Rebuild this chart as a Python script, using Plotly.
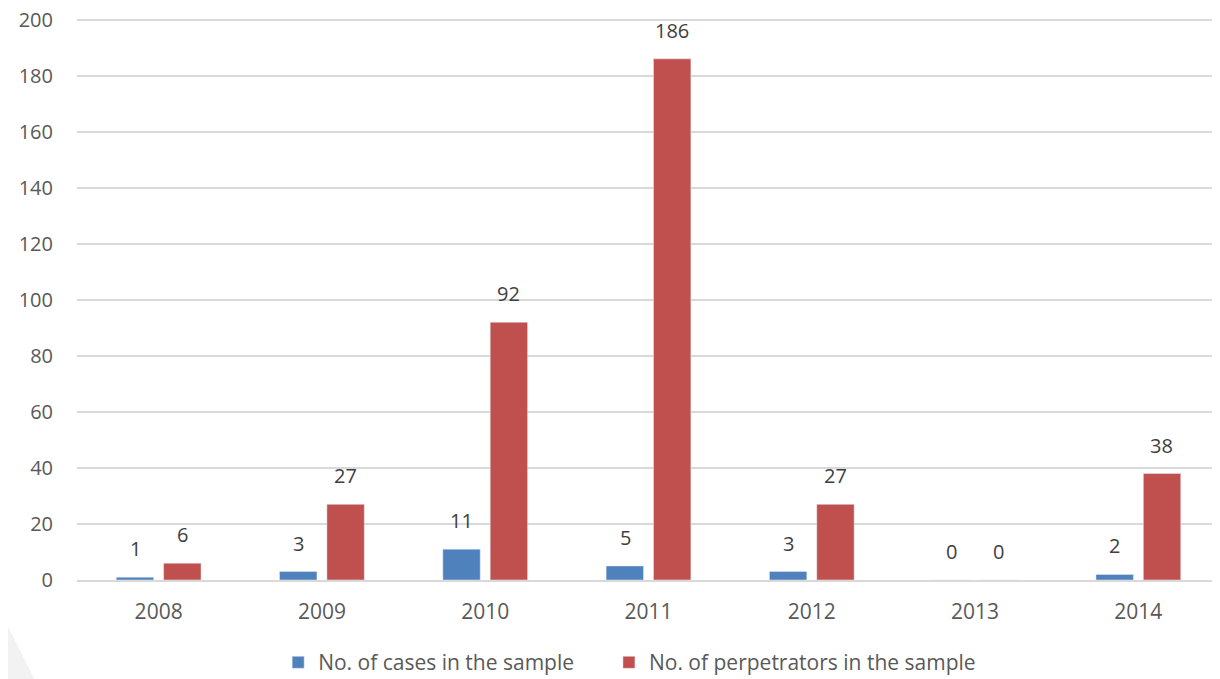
import plotly.graph_objects as go

years = ["2008", "2009", "2010", "2011", "2012", "2013", "2014"]
cases = [1, 3, 11, 5, 3, 0, 2]
perpetrators = [6, 27, 92, 186, 27, 0, 38]
y_ticks = [0, 20, 40, 60, 80, 100, 120, 140, 160, 180, 200]

BLUE = "#4F81BD"
RED = "#C0504D"
TXT = "#595959"
FONT = "Open Sans"
FS = 20
TFS = 21
YFS = 20

fig = go.Figure()
fig.add_trace(go.Bar(x=years, y=cases, name="No. of cases in the sample",
                     marker=dict(color=BLUE), legend="legend"))
fig.add_trace(go.Bar(x=years, y=perpetrators, name="No. of perpetrators in the sample",
                     marker=dict(color=RED), legend="legend2"))

annots = []
for i, v in enumerate(cases):
    annots.append(dict(x=i, y=v, xref="x", yref="y", text=str(v), showarrow=False,
                       xshift=-23.5, yshift=13, yanchor="bottom",
                       font=dict(family=FONT, size=FS, color="#404040")))
for i, v in enumerate(perpetrators):
    annots.append(dict(x=i, y=v, xref="x", yref="y", text=str(v), showarrow=False,
                       xshift=23.5, yshift=13, yanchor="bottom",
                       font=dict(family=FONT, size=FS, color="#404040")))

leg_common = dict(orientation="h", yanchor="middle", y=-0.146, xanchor="left",
                  font=dict(family=FONT, size=21, color=TXT))

fig.update_layout(
    width=1212, height=671,
    margin=dict(l=69, r=0, t=6, b=99, autoexpand=False),
    paper_bgcolor="white", plot_bgcolor="white",
    barmode="group", bargap=0.42, bargroupgap=0.21,
    font=dict(family=FONT, size=FS, color=TXT),
    annotations=annots,
    showlegend=True,
    legend=dict(x=0.176, **leg_common),
    legend2=dict(x=0.4654, **leg_common),
    xaxis=dict(type="category", range=[-0.5, len(years) - 0.5], autorange=False,
               automargin=False,
               showgrid=False, ticks="outside", ticklen=12,
               tickcolor="rgba(0,0,0,0)",
               showline=True, linecolor="#D9D9D9", linewidth=2,
               tickfont=dict(family=FONT, size=TFS, color=TXT)),
    yaxis=dict(range=[0, 202], autorange=False, automargin=False,
               tickvals=y_ticks, showgrid=True, ticklabeloverflow="allow",
               gridcolor="#D9D9D9", gridwidth=1.5, zeroline=False, showline=False,
               ticks="outside", ticklen=19, tickcolor="rgba(0,0,0,0)",
               tickfont=dict(family=FONT, size=YFS, color=TXT)),
    shapes=[dict(type="path", xref="paper", yref="paper",
                 path="M -0.0674 -0.0536 L -0.0368 -0.1768 L -0.0674 -0.1768 Z",
                 fillcolor="#F2F2F2", line=dict(width=0), layer="below")],
)

fig.write_html("out.html")
